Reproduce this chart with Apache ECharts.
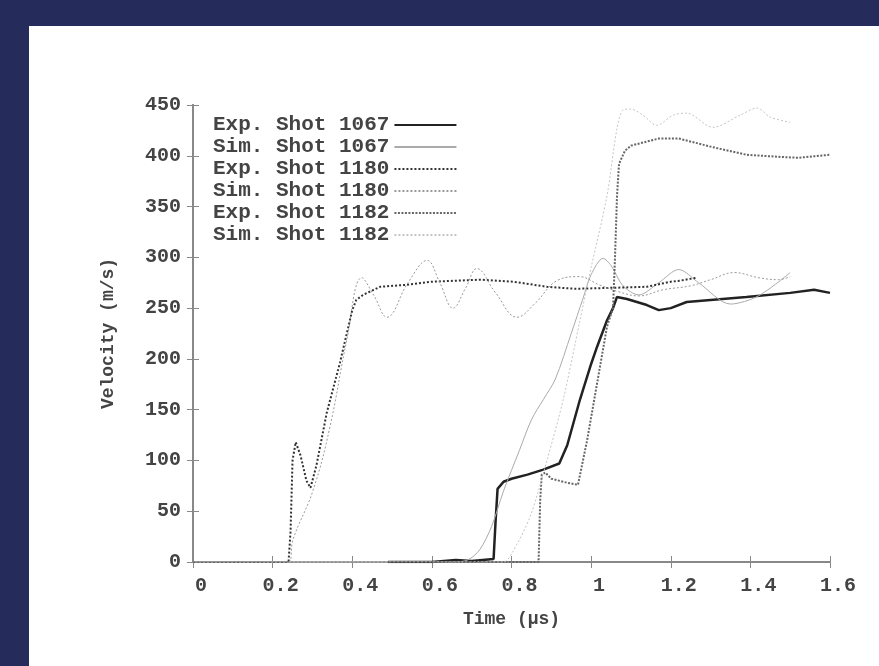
<!DOCTYPE html>
<html>
<head>
<meta charset="utf-8">
<script src="https://cdn.jsdelivr.net/npm/echarts@6/dist/echarts.min.js"></script>
<style>
  html, body { margin: 0; padding: 0; background: #252c5c; width: 879px; height: 666px; overflow: hidden; }
  #main { position: absolute; left: 29px; top: 26px; width: 850px; height: 640px; background: #fff; }
</style>
</head>
<body>
<div id="main"></div>
<script>
const chart = echarts.init(document.querySelector('#main'));

// time (us), velocity (m/s)
const exp1067 = [[0.49,0],[0.6,0],[0.66,2],[0.7,1],[0.755,3],[0.76,40],[0.765,72],[0.78,79],[0.8,82],[0.84,86],[0.88,91],[0.92,97],[0.94,115],[0.972,160],[1.0,195],[1.015,212],[1.04,238],[1.055,250],[1.065,261],[1.09,259],[1.14,253],[1.17,248],[1.2,250],[1.24,256],[1.3,258],[1.39,261],[1.5,265],[1.56,268],[1.6,265]];
const sim1067 = [[0,0],[0.65,0],[0.69,2],[0.72,12],[0.75,35],[0.78,70],[0.82,110],[0.85,140],[0.88,160],[0.91,180],[0.95,225],[0.98,260],[1.0,283],[1.03,299],[1.05,292],[1.08,272],[1.12,263],[1.17,275],[1.22,288],[1.27,275],[1.35,254],[1.42,262],[1.5,285]];
const exp1180 = [[0,0],[0.24,0],[0.245,30],[0.25,100],[0.258,118],[0.27,105],[0.285,80],[0.295,73],[0.31,95],[0.336,147],[0.369,196],[0.4,248],[0.41,258],[0.427,263],[0.47,271],[0.537,273],[0.6,276],[0.72,278],[0.805,276],[0.889,271],[0.96,269],[1.055,270],[1.14,271],[1.2,276],[1.223,277],[1.266,280]];
const sim1180 = [[0,0],[0.24,0],[0.251,22],[0.302,71],[0.344,133],[0.386,218],[0.424,280],[0.455,262],[0.487,241],[0.54,275],[0.588,297],[0.62,275],[0.653,250],[0.685,270],[0.713,289],[0.76,265],[0.814,241],[0.86,255],[0.914,277],[0.97,281],[1.02,273],[1.07,266],[1.12,262],[1.18,268],[1.25,272],[1.3,278],[1.36,285],[1.42,280],[1.47,278],[1.5,281]];
const exp1182 = [[0.6,0],[0.868,0],[0.872,60],[0.876,86],[0.885,88],[0.9,82],[0.94,78],[0.967,76],[0.99,120],[1.015,176],[1.04,232],[1.055,250],[1.06,300],[1.065,360],[1.07,392],[1.085,405],[1.1,410],[1.17,417],[1.22,417],[1.3,409],[1.39,401],[1.47,399],[1.52,398],[1.6,401]];
const sim1182 = [[0,0],[0.78,0],[0.8,8],[0.847,45],[0.889,100],[0.93,160],[0.972,238],[1.0,290],[1.04,361],[1.065,427],[1.08,445],[1.1,446],[1.13,440],[1.165,430],[1.206,440],[1.24,442],[1.306,428],[1.374,440],[1.417,447],[1.45,438],[1.5,433]];

const names = ['Exp. Shot 1067', 'Sim. Shot 1067', 'Exp. Shot 1180', 'Sim. Shot 1180', 'Exp. Shot 1182', 'Sim. Shot 1182'];

const font = 'Liberation Mono';
const axisColor = '#888';

function line(name, data, color, width, type, smooth) {
    return {
        name: name,
        type: 'line',
        data: data,
        symbol: 'none',
        smooth: smooth || false,
        animation: false,
        lineStyle: { color: color, width: width, type: type },
        itemStyle: { color: color }
    };
}

const option = {
    animation: false,
    grid: { left: 164, top: 79, width: 637, height: 457 },
    legend: {
        orient: 'vertical',
        left: 179,
        top: 83,
        align: 'right',
        itemWidth: 62,
        itemHeight: 14,
        itemGap: 0,
        data: names,
        itemStyle: { opacity: 0 },
        textStyle: { fontFamily: font, fontWeight: 'bold', fontSize: 21, lineHeight: 22, color: '#444' }
    },
    xAxis: [
        {
            type: 'value', min: 0, max: 1.6, interval: 0.2,
            name: 'Time (\u03bcs)', nameLocation: 'middle', nameGap: 48,
            nameTextStyle: { fontFamily: font, fontWeight: 'bold', fontSize: 18, color: '#444' },
            axisLine: { show: true, lineStyle: { color: axisColor, width: 2 } },
            axisTick: { show: true, inside: true, length: 6, lineStyle: { color: axisColor } },
            splitLine: { show: false },
            axisLabel: { fontFamily: font, fontWeight: 'bold', fontSize: 20, color: '#444', margin: 14, padding: [0, 0, 0, 16] }
        },
        {
            type: 'value', min: 0, max: 1.6, interval: 0.2, position: 'top',
            axisLine: { show: true, lineStyle: { color: axisColor, width: 2 } },
            axisTick: { show: true, inside: true, length: 6, lineStyle: { color: axisColor } },
            axisLabel: { show: false }, splitLine: { show: false }
        }
    ],
    yAxis: [
        {
            type: 'value', min: 0, max: 450, interval: 50,
            name: 'Velocity (m/s)', nameLocation: 'middle', nameGap: 76,
            nameTextStyle: { fontFamily: font, fontWeight: 'bold', fontSize: 18, color: '#444' },
            axisLine: { show: true, lineStyle: { color: axisColor, width: 2 } },
            axisTick: { show: true, inside: true, length: 6, lineStyle: { color: axisColor } },
            splitLine: { show: false },
            axisLabel: { fontFamily: font, fontWeight: 'bold', fontSize: 20, color: '#444', margin: 12 }
        },
        {
            type: 'value', min: 0, max: 450, interval: 50, position: 'right',
            axisLine: { show: true, lineStyle: { color: axisColor, width: 2 } },
            axisTick: { show: true, inside: true, length: 6, lineStyle: { color: axisColor } },
            axisLabel: { show: false }, splitLine: { show: false }
        }
    ],
    series: [
        line(names[0], exp1067, '#222', 2.5, 'solid'),
        line(names[1], sim1067, '#aaa', 1, 'solid', 0.3),
        line(names[2], exp1180, '#333', 2, [2, 2]),
        line(names[3], sim1180, '#999', 1, [2, 2], 0.4),
        line(names[4], exp1182, '#666', 2, [2, 1.5]),
        line(names[5], sim1182, '#c4c4c4', 1, [2, 2], 0.3)
    ]
};
chart.setOption(option);
</script>
</body>
</html>
